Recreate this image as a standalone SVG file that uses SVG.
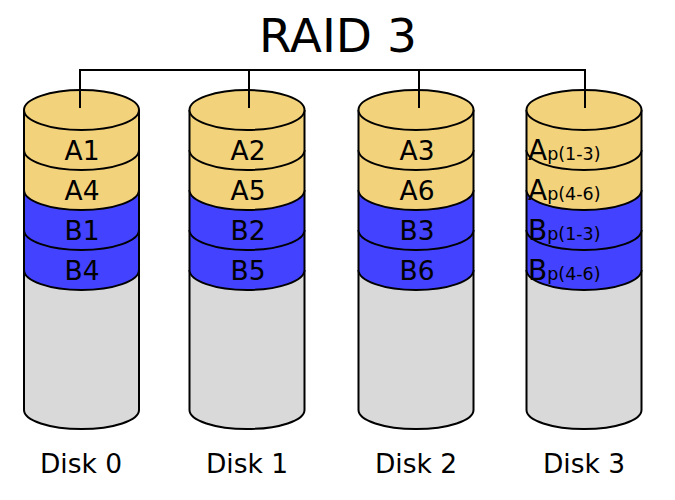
<svg xmlns="http://www.w3.org/2000/svg" width="675" height="500" viewBox="0 0 675 500">
<style>
.seg{stroke:#000;stroke-width:2}
.y{fill:#f3d27c}
.b{fill:#4242ff}
.g{fill:#d9d9d9}
.t{font-family:"DejaVu Sans",sans-serif;font-size:26.5px;fill:#000;text-anchor:middle}
.d{font-family:"DejaVu Sans",sans-serif;font-size:26.5px;fill:#000;text-anchor:middle}
.s{font-family:"DejaVu Sans",sans-serif;fill:#000}
.c{stroke:#000;stroke-width:2;fill:none}
</style>
<defs>
<g id="cyl">
<path class="seg g" d="M-57.5,270 L-57.5,410 A57.5 19 0 0 0 57.5,410 L57.5,270"/>
<path class="seg b" d="M-57.5,230 L-57.5,270 A57.5 20 0 0 0 57.5,270 L57.5,230"/>
<path class="seg b" d="M-57.5,190 L-57.5,230 A57.5 20 0 0 0 57.5,230 L57.5,190"/>
<path class="seg y" d="M-57.5,150 L-57.5,190 A57.5 20 0 0 0 57.5,190 L57.5,150"/>
<path class="seg y" d="M-57.5,110 L-57.5,150 A57.5 20 0 0 0 57.5,150 L57.5,110"/>
<ellipse class="seg y" cx="0" cy="110" rx="57.5" ry="20"/>
</g>
</defs>
<text x="338" y="52" class="s" font-size="47" text-anchor="middle">RAID 3</text>
<g id="disk0">
<use href="#cyl" x="81.5"/>
<text class="t" x="82" y="160">A1</text>
<text class="t" x="82" y="200">A4</text>
<text class="t" x="82" y="240">B1</text>
<text class="t" x="82" y="280">B4</text>
<text class="d" x="81" y="473">Disk 0</text>
</g>
<g id="disk1">
<use href="#cyl" x="247"/>
<text class="t" x="248" y="160">A2</text>
<text class="t" x="248" y="200">A5</text>
<text class="t" x="248" y="240">B2</text>
<text class="t" x="248" y="280">B5</text>
<text class="d" x="247" y="473">Disk 1</text>
</g>
<g id="disk2">
<use href="#cyl" x="416"/>
<text class="t" x="417" y="160">A3</text>
<text class="t" x="417" y="200">A6</text>
<text class="t" x="417" y="240">B3</text>
<text class="t" x="417" y="280">B6</text>
<text class="d" x="416" y="473">Disk 2</text>
</g>
<g id="disk3">
<use href="#cyl" x="584"/>
<text class="s" x="528" y="160" font-size="28">A<tspan font-size="17.5">p(1-3)</tspan></text>
<text class="s" x="528" y="200" font-size="28">A<tspan font-size="17.5">p(4-6)</tspan></text>
<text class="s" x="528" y="240" font-size="28">B<tspan font-size="17.5">p(1-3)</tspan></text>
<text class="s" x="528" y="280" font-size="28">B<tspan font-size="17.5">p(4-6)</tspan></text>
<text class="d" x="584" y="473">Disk 3</text>
</g>
<g id="connectors">
<path class="c" d="M80,108 L80,70 L585,70 L585,108 M249,70 L249,108 M419,70 L419,108"/>
</g>
</svg>
